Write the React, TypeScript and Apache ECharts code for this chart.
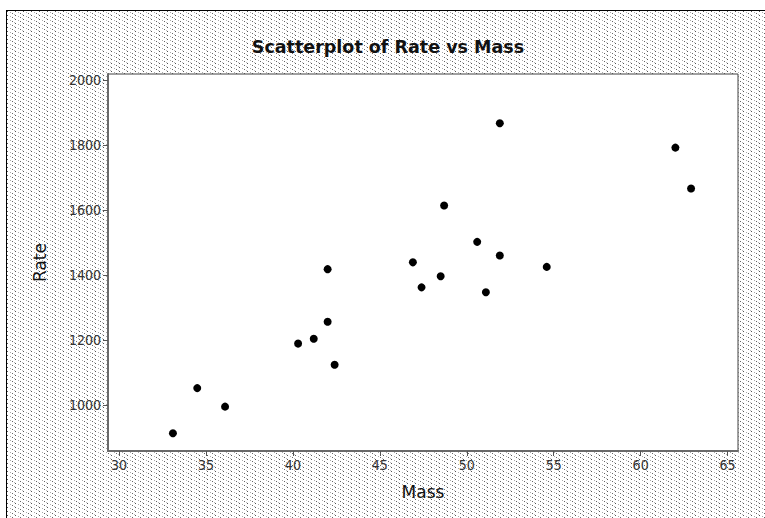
import React, { useEffect, useRef } from "react";
import * as echarts from "echarts";

const titleText = "Scatterplot of Rate vs Mass";
const xName = "Mass";
const yName = "Rate";
const mass = [62.0, 62.9, 36.1, 54.6, 48.5, 42.0, 47.4, 50.6, 42.0, 48.7, 40.3, 33.1, 51.9, 42.4, 34.5, 51.1, 41.2, 51.9, 46.9];
const rate = [1792, 1666, 995, 1425, 1396, 1418, 1362, 1502, 1256, 1614, 1189, 913, 1460, 1124, 1052, 1347, 1204, 1867, 1439];
const xTicks = [30, 35, 40, 45, 50, 55, 60, 65];
const yTicks = [1000, 1200, 1400, 1600, 1800, 2000];

const FONT = "'DejaVu Sans Condensed', 'Liberation Sans', sans-serif";
const TITLE_FONT = "'DejaVu Sans', 'Liberation Sans', sans-serif";

const tileSvg =
  "<svg xmlns='http://www.w3.org/2000/svg' width='8' height='4' shape-rendering='crispEdges'>" +
  "<rect x='0' y='0' width='1' height='1' fill='#555'/>" +
  "<rect x='3' y='1' width='1' height='1' fill='#aaa'/>" +
  "<rect x='5' y='2' width='1' height='1' fill='#666'/>" +
  "<rect x='7' y='3' width='1' height='1' fill='#bbb'/>" +
  "</svg>";
const tileUrl = "url(\"data:image/svg+xml;utf8," + encodeURIComponent(tileSvg) + "\")";

export default function App() {
  const ref = useRef<HTMLDivElement>(null);
  useEffect(() => {
    if (!ref.current) return;
    const chart = echarts.init(ref.current, undefined, { renderer: "svg" });
    const data = mass.map((m, i) => [m, rate[i]]);
    chart.setOption({
      animation: false,
      backgroundColor: "transparent",
      title: {
        text: titleText,
        left: 388,
        top: 38,
        padding: 0,
        textAlign: "center",
        textStyle: { fontFamily: TITLE_FONT, fontSize: 17.5, fontWeight: "bold", color: "#111" },
      },
      grid: {
        left: 108,
        top: 74,
        width: 630,
        height: 377,
        show: true,
        backgroundColor: "#ffffff",
        borderColor: "#404040",
        borderWidth: 1,
        containLabel: false,
      },
      xAxis: {
        type: "value",
        min: 29.367,
        max: 65.6,
        name: xName,
        nameLocation: "middle",
        nameGap: 32,
        nameTextStyle: { fontFamily: TITLE_FONT, fontSize: 17, color: "#111" },
        axisLine: { show: true, onZero: false, lineStyle: { color: "#6a6a6a", width: 2 } },
        axisTick: { show: true, length: 5, customValues: xTicks, lineStyle: { color: "#555" } },
        axisLabel: {
          customValues: xTicks,
          formatter: (v: number) => String(v),
          fontFamily: FONT,
          fontSize: 14,
          color: "#333",
          margin: 7,
        },
        splitLine: { show: false },
      },
      yAxis: {
        type: "value",
        min: 858.5,
        max: 2018.5,
        name: yName,
        nameLocation: "middle",
        nameGap: 60,
        nameTextStyle: { fontFamily: TITLE_FONT, fontSize: 17, color: "#111" },
        axisLine: { show: true, onZero: false, lineStyle: { color: "#6a6a6a", width: 2 } },
        axisTick: { show: true, length: 5, customValues: yTicks, lineStyle: { color: "#555" } },
        axisLabel: {
          customValues: yTicks,
          formatter: (v: number) => String(v),
          fontFamily: FONT,
          fontSize: 14,
          color: "#333",
          margin: 7,
        },
        splitLine: { show: false },
      },
      series: [
        {
          type: "scatter",
          data,
          symbol: "circle",
          symbolSize: 8,
          itemStyle: { color: "#000", opacity: 1 },
        },
      ],
    });
    return () => chart.dispose();
  }, []);

  return (
    <div style={{ position: "fixed", left: 0, top: 0, width: 765, height: 518, background: "#fff", overflow: "hidden" }}>
      <div
        style={{
          position: "absolute",
          left: 6,
          top: 10,
          right: -2,
          bottom: -2,
          borderLeft: "1px solid #000",
          borderTop: "1px solid #000",
          backgroundColor: "#fff",
          backgroundImage: tileUrl,
          backgroundRepeat: "repeat",
        }}
      />
      <div ref={ref} style={{ position: "absolute", left: 0, top: 0, width: 765, height: 518 }} />
    </div>
  );
}
